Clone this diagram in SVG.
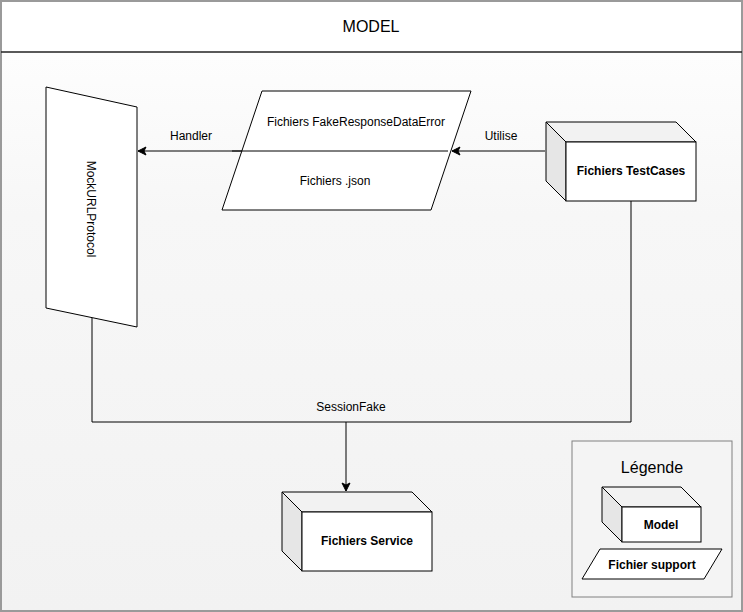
<svg xmlns="http://www.w3.org/2000/svg" width="743" height="612" viewBox="0 0 743 612">
<defs>
<linearGradient id="bg" x1="0" y1="0" x2="0" y2="1">
<stop offset="0" stop-color="#ffffff"/>
<stop offset="0.35" stop-color="#f7f7f7"/>
<stop offset="1" stop-color="#f2f2f2"/>
</linearGradient>
<marker id="arr" markerWidth="10" markerHeight="10" viewBox="0 0 10 10" refX="9" refY="5" orient="auto" markerUnits="userSpaceOnUse">
<path d="M1,1 L9,5 L1,9 L3,5 Z" fill="#000" stroke="#000" stroke-width="1"/>
</marker>
</defs>
<style>
text{font-family:"Liberation Sans",Arial,Helvetica,sans-serif;fill:#000;text-anchor:middle}
.lbl{font-size:12px}
.b{font-size:12px;font-weight:bold}
.shape{fill:#fff;stroke:#000;stroke-width:1}
.top{fill:#f2f2f2;stroke:#000;stroke-width:1}
.side{fill:#e6e6e6;stroke:#000;stroke-width:1}
.edge{fill:none;stroke:#000;stroke-width:1}
</style>
<g id="frame">
<rect x="1" y="1" width="741" height="610" fill="url(#bg)" stroke="none"/>
<rect x="1" y="1" width="741" height="51" fill="#ffffff"/>
<rect x="1" y="1" width="741" height="610" fill="none" stroke="#9a9a9a" stroke-width="2"/>
<line x1="1" y1="52" x2="742" y2="52" stroke="#222" stroke-width="1.5"/>
<text x="371" y="32" style="font-size:16px">MODEL</text>
</g>
<g id="connectors">
<path class="edge" d="M545,151 L452,151" marker-end="url(#arr)"/>
<path class="edge" d="M448,151 L138,151" marker-end="url(#arr)"/>
<path class="edge" d="M92,318 L92,422 L346,422 L346,491" marker-end="url(#arr)"/>
<path class="edge" d="M631,201 L631,422 L346,422"/>
<text class="lbl" x="191" y="140">Handler</text>
<text class="lbl" x="501" y="140">Utilise</text>
<text class="lbl" x="351" y="411">SessionFake</text>
</g>
<g id="mockurlprotocol">
<polygon class="shape" points="46,87 137,107 137,327 46,308"/>
<text class="lbl" transform="translate(87,209) rotate(90)">MockURLProtocol</text>
</g>
<g id="fichiers-json">
<polygon class="shape" points="262,91 471,91 431,210 222,210" fill="#fff"/>
<line class="edge" x1="448" y1="151" x2="232" y2="151"/>
<text class="lbl" x="356" y="126">Fichiers FakeResponseDataError</text>
<text class="lbl" x="335" y="185">Fichiers .json</text>
</g>
<g id="testcases">
<polygon class="top" points="546,122 676,122 696,142 566,142"/>
<polygon class="side" points="546,122 566,142 566,201 546,181"/>
<rect class="shape" x="566" y="142" width="130" height="59"/>
<text class="b" x="631" y="175">Fichiers TestCases</text>
</g>
<g id="service">
<polygon class="top" points="282,492 412,492 432,512 302,512"/>
<polygon class="side" points="282,492 302,512 302,571 282,551"/>
<rect class="shape" x="302" y="512" width="130" height="59"/>
<text class="b" x="367" y="545">Fichiers Service</text>
</g>
<g id="legende">
<rect x="572" y="441" width="160" height="156" fill="#f4f4f4" stroke="#808080" stroke-width="1"/>
<text x="652" y="473" style="font-size:16px">Légende</text>
<polygon class="top" points="602,487 681,487 701,507 622,507"/>
<polygon class="side" points="602,487 622,507 622,542 602,522"/>
<rect class="shape" x="622" y="507" width="79" height="35"/>
<text class="b" x="661" y="529">Model</text>
<polygon class="shape" points="600,549 722,549 704,579 582,579"/>
<text class="b" x="652" y="569">Fichier support</text>
</g>
</svg>
